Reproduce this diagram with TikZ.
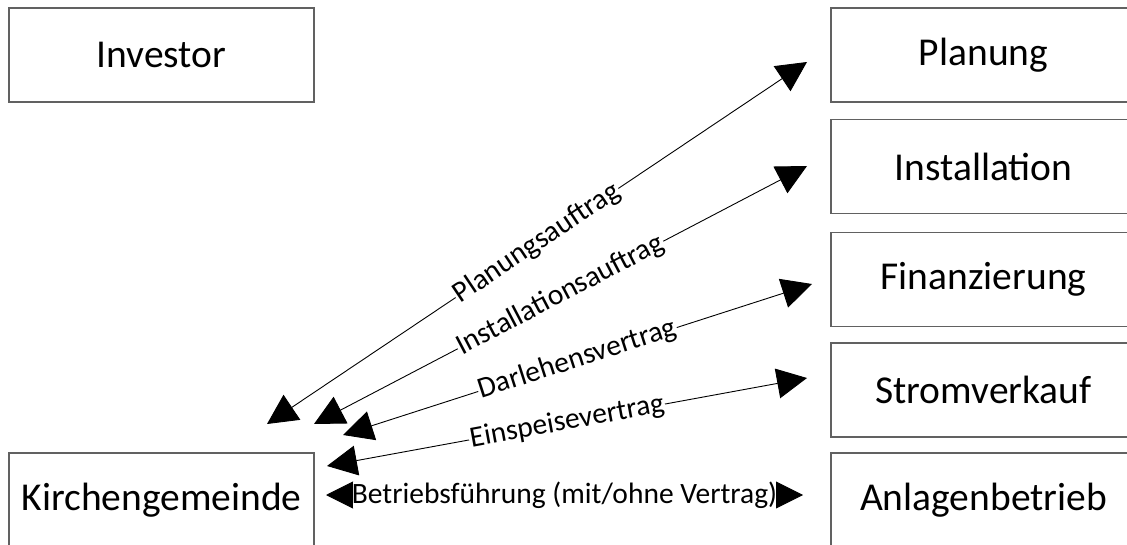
\documentclass[tikz,border=0pt]{standalone}
\usepackage{fontspec}
\setmainfont{Carlito}
\usetikzlibrary{arrows.meta}
\begin{document}
\begin{tikzpicture}[x=1pt,y=-1pt,
  entity/.style={draw=black!62, line width=1.2pt, minimum width=305pt,
    minimum height=94pt, inner sep=0pt, font=\fontsize{39.5}{42}\selectfont},
  relation/.style={line width=0.9pt,
    {Triangle[length=30pt,width=30pt]}-{Triangle[length=30pt,width=30pt]}},
  tag/.style={fill=white, inner sep=1pt, sloped, pos=0.5,
    font=\fontsize{29.5}{32}\selectfont}
]
\useasboundingbox (0,0) rectangle (1127,545);
\clip (0,0) rectangle (1127,545);

% parties
\node[entity] (investor) at (161.5,55) {Investor};
\node[entity] (kirche)   at (161.5,500) {Kirchengemeinde};
\node[entity] (planung)  at (983.5,55) {Planung};
\node[entity] (install)  at (983.5,166.5) {Installation};
\node[entity] (finanz)   at (983.5,279.5) {Finanzierung};
\node[entity] (strom)    at (983.5,390) {Stromverkauf};
\node[entity] (betrieb)  at (983.5,500) {Anlagenbetrieb};

% arrow ends
\coordinate (k1) at (267,424);  \coordinate (r1) at (807,62);
\coordinate (k2) at (314,424);  \coordinate (r2) at (807,166);
\coordinate (k3) at (343,435);  \coordinate (r3) at (812,284);
\coordinate (k4) at (327,466);  \coordinate (r4) at (807,378);
\coordinate (k5) at (326,495);  \coordinate (r5) at (803,495);

% contracts
\draw[relation] (k1) -- node[tag] {Planungsauftrag} (r1);
\draw[relation] (k2) -- node[tag] {Installationsauftrag} (r2);
\draw[relation] (k3) -- node[tag] {Darlehensvertrag} (r3);
\draw[relation] (k4) -- node[tag] {Einspeisevertrag} (r4);
\draw[line width=0.9pt,
  {Triangle[length=27pt,width=27pt]}-{Triangle[length=27pt,width=27pt]}]
  (k5) -- node[tag, inner xsep=-1.5pt, inner ysep=0pt]
  {Betriebsführung (mit/ohne Vertrag)} (r5);
\end{tikzpicture}
\end{document}
